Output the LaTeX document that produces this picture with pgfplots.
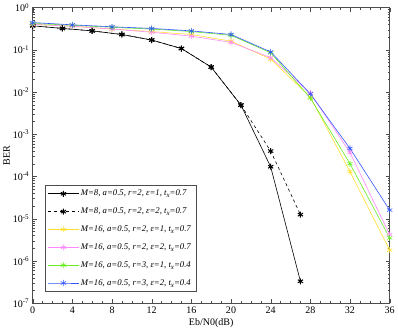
\documentclass[border=0pt]{standalone}
\usepackage{pgfplots}
\pgfplotsset{compat=1.18}
\usepackage{fontspec}
\setmainfont{Liberation Serif}
\definecolor{cyel}{HTML}{FFE030}
\definecolor{cpink}{HTML}{FF88FF}
\definecolor{cgreen}{HTML}{66EE22}
\definecolor{cblue}{HTML}{3355FF}
\newcommand{\tx}{t\raisebox{-0.5ex}{\scriptsize x}}

\begin{document}
\begin{tikzpicture}[x=1bp,y=1bp]
\begin{semilogyaxis}[
    scale only axis,
    width=355bp, height=294bp,
    xmin=0, xmax=36, ymin=1e-7, ymax=1,
    xtick={0,4,...,36}, minor x tick num=3,
    ytick={1e-7,1e-6,1e-5,1e-4,1e-3,1e-2,1e-1,1},
    yticklabels={10\textsuperscript{-7},10\textsuperscript{-6},10\textsuperscript{-5},10\textsuperscript{-4},10\textsuperscript{-3},10\textsuperscript{-2},10\textsuperscript{-1},10\textsuperscript{0}},
    /pgf/number format/assume math mode=true,
    tick align=inside,
    major tick length=4bp, minor tick length=2bp,
    tick style={black!70},
    axis line style={black!70},
    ticklabel style={font=\fontsize{10}{11}\selectfont},
    xlabel={Eb/N0(dB)}, ylabel={BER},
    label style={font=\fontsize{10}{11}\selectfont},
    ylabel style={yshift=-4bp},
    xlabel style={yshift=2bp},
    legend style={at={(0.034,0.40)}, anchor=north west,
        font=\fontsize{8.7}{10}\selectfont\itshape, draw=black!70,
        row sep=6.5bp, inner sep=3bp},
    legend cell align=left,
    legend image code/.code={\draw[mark repeat=2,mark phase=2,#1]
        plot coordinates {(0bp,0bp)(15bp,0bp)(30bp,0bp)};},
    every axis plot/.append style={mark=asterisk, mark size=3pt, line width=0.6pt},
]
\addplot[black, mark options={line width=1pt}] coordinates
  {(0,0.37)(3,0.32)(6,0.28)(9,0.23)(12,0.17)(15,0.107)(18,0.039)(21,0.0049)(24,1.7e-4)(27,3.3e-7)};
\addlegendentry{M=8, a=0.5, r=2, ε=1, \tx=0.7}
\addplot[black, dashed, mark options={solid, line width=1pt}] coordinates
  {(0,0.37)(3,0.32)(6,0.28)(9,0.23)(12,0.17)(15,0.107)(18,0.039)(21,0.0049)(24,4e-4)(27,1.25e-5)};
\addlegendentry{M=8, a=0.5, r=2, ε=2, \tx=0.7}
\addplot[cyel] coordinates
  {(0,0.40)(4,0.36)(8,0.31)(12,0.27)(16,0.23)(20,0.16)(24,0.060)(28,0.0076)(32,1.3e-4)(36,1.8e-6)};
\addlegendentry{M=16, a=0.5, r=2, ε=1, \tx=0.7}
\addplot[cpink] coordinates
  {(0,0.40)(4,0.36)(8,0.31)(12,0.26)(16,0.21)(20,0.15)(24,0.065)(28,0.0094)(32,3.7e-4)(36,4.2e-6)};
\addlegendentry{M=16, a=0.5, r=2, ε=2, \tx=0.7}
\addplot[cgreen] coordinates
  {(0,0.42)(4,0.38)(8,0.34)(12,0.31)(16,0.27)(20,0.22)(24,0.085)(28,0.0072)(32,2.0e-4)(36,3.5e-6)};
\addlegendentry{M=16, a=0.5, r=3, ε=1, \tx=0.4}
\addplot[cblue] coordinates
  {(0,0.44)(4,0.39)(8,0.35)(12,0.32)(16,0.28)(20,0.23)(24,0.089)(28,0.009)(32,4.6e-4)(36,1.6e-5)};
\addlegendentry{M=16, a=0.5, r=3, ε=2, \tx=0.4}
\end{semilogyaxis}
\end{tikzpicture}
\end{document}
